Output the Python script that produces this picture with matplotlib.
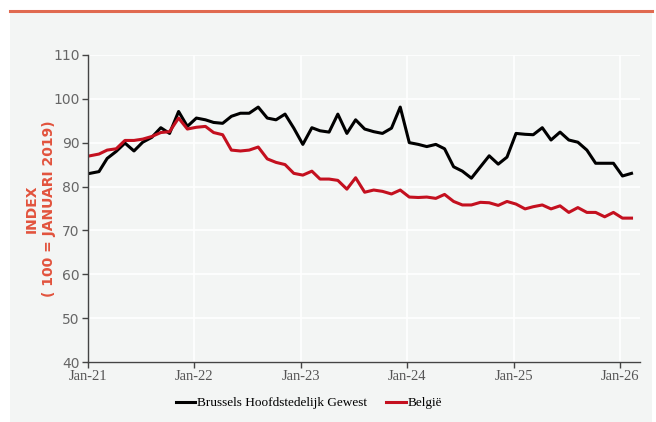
import numpy as np
import pandas as pd
import matplotlib.pyplot as plt
import matplotlib.dates as mdates
from matplotlib.patches import Rectangle
from matplotlib.lines import Line2D

# maandelijkse index (100 = januari 2019), jan-21 t/m feb-26
brussel = [83.0, 83.4, 86.4, 88.0, 89.9, 88.1, 90.1, 91.2, 93.4, 92.1, 97.1, 93.7,
           95.6, 95.2, 94.6, 94.4, 96.0, 96.7, 96.7, 98.1, 95.6, 95.2, 96.5, 93.3,
           89.6, 93.4, 92.7, 92.4, 96.5, 92.1, 95.2, 93.1, 92.5, 92.1, 93.3, 98.1,
           90.0, 89.6, 89.1, 89.6, 88.6, 84.5, 83.5, 81.9, 84.5, 87.0, 85.1, 86.7,
           92.1, 91.9, 91.8, 93.4, 90.6, 92.4, 90.6, 90.1, 88.3, 85.3, 85.3, 85.3,
           82.4, 83.0]
belgie = [87.0, 87.4, 88.3, 88.6, 90.5, 90.5, 90.8, 91.4, 92.3, 92.5, 95.6, 93.1,
          93.5, 93.7, 92.3, 91.8, 88.3, 88.1, 88.3, 89.0, 86.3, 85.5, 85.0, 83.0,
          82.6, 83.5, 81.7, 81.7, 81.4, 79.4, 82.0, 78.7, 79.2, 78.9, 78.3, 79.2,
          77.6, 77.5, 77.6, 77.3, 78.2, 76.6, 75.8, 75.8, 76.4, 76.3, 75.7, 76.6,
          76.0, 74.9, 75.4, 75.8, 74.9, 75.6, 74.1, 75.2, 74.1, 74.1, 73.1, 74.1,
          72.8, 72.8]
maanden = pd.date_range('2021-01-01', periods=len(brussel), freq='MS') + pd.Timedelta(days=7)
jaar_ticks = pd.date_range('2021-01-01', '2026-01-01', freq='YS')
jaar_labels = ['Jan-21', 'Jan-22', 'Jan-23', 'Jan-24', 'Jan-25', 'Jan-26']

rood = '#c4101f'
accent = '#e2533d'

fig = plt.figure(figsize=(6.56, 4.22), dpi=100)
fig.patch.set_facecolor('white')
# grijs paneel + rode lijn bovenaan
fig.add_artist(Rectangle((0.015, 0.0), 0.979, 0.972, transform=fig.transFigure,
                         facecolor='#f3f5f4', edgecolor='none', zorder=0))
fig.add_artist(Line2D([0.015, 0.994], [0.974, 0.974], transform=fig.transFigure,
                      color='#e06a50', lw=2.2, zorder=1))

ax = fig.add_axes([0.134, 0.142, 0.842, 0.728])
ax.set_facecolor('#f3f5f4')

ax.plot(maanden, brussel, color='black', lw=2.2, label='Brussels Hoofdstedelijk Gewest')
ax.plot(maanden, belgie, color=rood, lw=2.2, label='België')

ax.set_ylim(40, 110)
ax.set_yticks(range(40, 111, 10))
ax.set_xlim(pd.Timestamp('2021-01-01'), pd.Timestamp('2026-03-10'))
ax.set_xticks(jaar_ticks)
ax.set_xticklabels(jaar_labels, family='Liberation Serif', fontsize=10.5, color='#555555')
for lbl in ax.get_yticklabels():
    lbl.set_fontsize(10)
    lbl.set_color('#666666')

ax.grid(True, color='white', lw=1.2)
ax.set_axisbelow(True)
for s in ['top', 'right']:
    ax.spines[s].set_visible(False)
for s in ['left', 'bottom']:
    ax.spines[s].set_color('#444444')
    ax.spines[s].set_linewidth(1.0)
ax.tick_params(axis='both', length=4, color='#444444', width=1.0, pad=2)

ax.set_ylabel('INDEX\n( 100 = JANUARI 2019)', color=accent, fontsize=10,
              fontweight='bold', linespacing=1.3)
ax.yaxis.set_label_coords(-0.057, 0.5)

ax.legend(loc='upper center', bbox_to_anchor=(0.40, -0.075), ncol=2, frameon=False,
          handlelength=1.5, handletextpad=0.1, columnspacing=1.5,
          prop={'family': 'Liberation Serif', 'size': 9.5})

fig.savefig('out.png', dpi=100, facecolor=fig.get_facecolor())
